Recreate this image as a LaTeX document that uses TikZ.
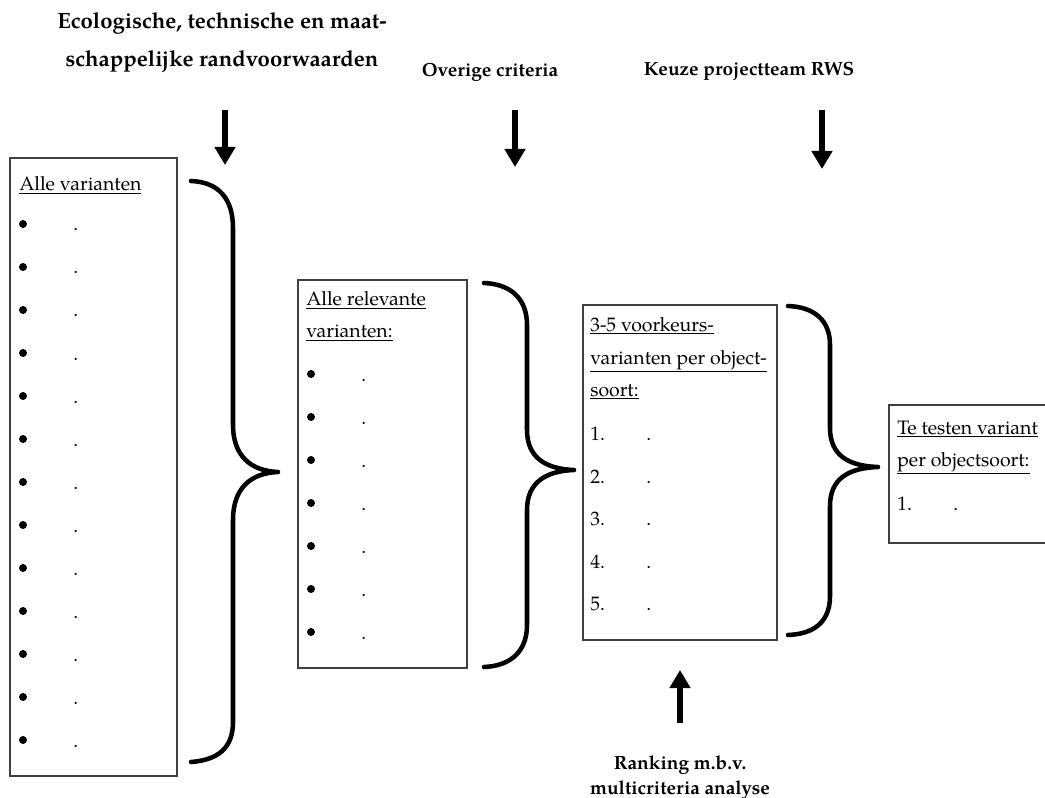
\documentclass[tikz,border=0pt]{standalone}
\usepackage{fontspec}
\setmainfont{texgyrepagella}[Extension=.otf, UprightFont=*-regular, BoldFont=*-bold, ItalicFont=*-italic, BoldItalicFont=*-bolditalic]
\usetikzlibrary{arrows.meta}
\tikzset{
  box/.style={draw=black!75, line width=0.8pt},
  brace/.style={line width=3.4pt, line cap=round, line join=round},
  flow/.style={line width=4.4pt, -{Triangle[width=15pt,length=13.5pt]}},
  head/.style={font=\fontsize{16.6}{20}\selectfont\bfseries, inner sep=0pt, anchor=base},
  headsm/.style={font=\fontsize{14.3}{18}\selectfont\bfseries, inner sep=0pt, anchor=base},
  txt/.style={font=\fontsize{14.6}{18}\selectfont, inner sep=0pt, anchor=base west},
  dotb/.style={circle, fill=black, inner sep=0pt, minimum size=6pt},
}
\newcommand{\ul}[1]{\underline{#1}}
\begin{document}
\begin{tikzpicture}[x=0.75pt,y=-0.75pt]
\useasboundingbox (0,0) rectangle (1045,798);
\clip (0,0) rectangle (1045,798);

% headings
\node[head] (h1a) at (222,29) {Ecologische, technische en maat-};
\node[head] (h1b) at (222,67) {schappelijke randvoorwaarden};
\node[headsm] (h2) at (490,77) {Overige criteria};
\node[headsm] (h3) at (749,76) {Keuze projectteam RWS};
\node[headsm] (h4a) at (680,769) {Ranking m.b.v.};
\node[headsm] (h4b) at (680,794) {multicriteria analyse};

% arrows
\coordinate (a1s) at (225,110); \coordinate (a1e) at (225,165);
\coordinate (a2s) at (515,110); \coordinate (a2e) at (515,167);
\coordinate (a3s) at (822,110); \coordinate (a3e) at (822,169);
\coordinate (a4s) at (680,723); \coordinate (a4e) at (680,670);
\draw[flow] (a1s) -- (a1e);
\draw[flow] (a2s) -- (a2e);
\draw[flow] (a3s) -- (a3e);
\draw[flow] (a4s) -- (a4e);

% box 1
\draw[box] (10,158) rectangle (177,776);
\node[txt] (b1t) at (19,191) {\ul{Alle varianten}};
\foreach \i in {0,...,12} {
  \node[dotb] (b1b\i) at (23,{224+43*\i}) {};
  \node[txt] (b1d\i) at (73,{231+43*\i}) {.};
}

% box 2
\draw[box] (298,280) rectangle (467,668);
\node[txt] (b2t1) at (306,306) {\ul{Alle relevante}};
\node[txt] (b2t2) at (306,338) {\ul{varianten:}};
\foreach \i in {0,...,6} {
  \node[dotb] (b2b\i) at (311,{374+43*\i}) {};
  \node[txt] (b2d\i) at (361,{381+43*\i}) {.};
}

% box 3
\draw[box] (583,305) rectangle (777,640);
\node[txt] (b3t1) at (590,331) {\ul{3-5 voorkeurs-}};
\node[txt] (b3t2) at (590,364) {\ul{varianten per object-}};
\node[txt] (b3t3) at (590,396) {\ul{soort:}};
\foreach \i in {1,...,5} {
  \node[txt] (b3n\i) at (590,{398+42.5*\i}) {\i.};
  \node[txt] (b3d\i) at (646,{398+42.5*\i}) {.};
}

% box 4
\draw[box] (1047,405) -- (889,405) -- (889,543) -- (1047,543);
\node[txt] (b4t1) at (897,434) {\ul{Te testen variant}};
\node[txt] (b4t2) at (897,466) {\ul{per objectsoort:}};
\node[txt] (b4n1) at (897,510) {1.};
\node[txt] (b4d1) at (953,510) {.};

% braces
\draw[brace] (191,181) .. controls (218,182) and (233,198) .. (233,228)
  -- (233,425) .. controls (233,455) and (250,471) .. (278,472)
  .. controls (250,473) and (233,489) .. (233,520)
  -- (233,722) .. controls (233,748) and (218,760) .. (191,762);
\draw[brace] (484,283) .. controls (510,284) and (527,298) .. (527,325)
  -- (527,430) .. controls (527,457) and (545,469) .. (574,470)
  .. controls (545,471) and (527,483) .. (527,510)
  -- (527,625) .. controls (527,652) and (510,666) .. (484,667);
\draw[brace] (788,306) .. controls (814,307) and (830,320) .. (830,345)
  -- (830,428) .. controls (830,455) and (848,466) .. (878,467)
  .. controls (848,468) and (830,479) .. (830,506)
  -- (830,596) .. controls (830,622) and (814,634) .. (788,635);
\end{tikzpicture}
\end{document}
